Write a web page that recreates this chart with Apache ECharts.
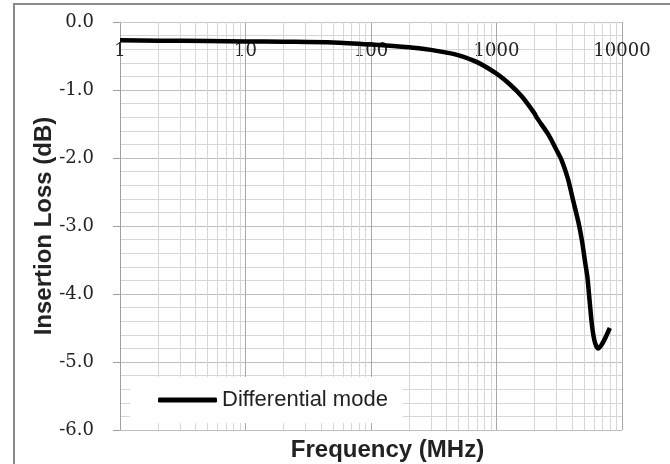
<!DOCTYPE html>
<html>
<head>
<meta charset="utf-8">
<script src="https://cdn.jsdelivr.net/npm/echarts@6/dist/echarts.min.js"></script>
<style>
html,body{margin:0;padding:0;background:#fff;}
#chart{width:670px;height:464px;}
</style>
</head>
<body>
<div id="chart"></div>
<script>
// Data
var freqMHz = [1, 2, 5, 10, 20, 50, 100, 200, 300, 400, 500, 700, 1000, 1300, 1600, 2000, 2100, 2600, 3000, 3300, 3700, 4100, 4500, 4800, 5100, 5300, 5550, 5800, 6100, 6450, 6800, 7300, 8000];
var lossDB  = [-0.27, -0.275, -0.28, -0.285, -0.29, -0.30, -0.33, -0.37, -0.41, -0.45, -0.49, -0.59, -0.76, -0.93, -1.10, -1.34, -1.41, -1.66, -1.88, -2.03, -2.30, -2.64, -2.95, -3.22, -3.55, -3.75, -4.15, -4.50, -4.72, -4.80, -4.76, -4.66, -4.50];
var seriesName = 'Differential mode';
var xTickLabels = ['1', '10', '100', '1000', '10000'];
var yMin = -6, yMax = 0, yStep = 1;

// minor log gridline positions (2..9 per decade)
var minorFreqs = [];
[1, 10, 100, 1000].forEach(function (d) {
  for (var k = 2; k <= 9; k++) minorFreqs.push(d * k);
});

var pts = freqMHz.map(function (f, i) { return [f, lossDB[i]]; });

var chart = echarts.init(document.getElementById('chart'), null, {renderer: 'canvas'});
var serif = '"DejaVu Serif", serif';
var sans = '"Liberation Sans", Arial, sans-serif';

chart.setOption({
  animation: false,
  backgroundColor: '#ffffff',
  grid: {left: 120, right: 48, top: 22, bottom: 34, show: false, containLabel: false, outerBoundsMode: 'none'},
  graphic: [{
    type: 'rect', silent: true, z: 100,
    shape: {x: 14, y: 4, width: 700, height: 500},
    style: {fill: 'none', stroke: '#8a8a8a', lineWidth: 2}
  }],
  legend: {
    left: 130, top: 377,
    orient: 'horizontal',
    backgroundColor: '#ffffff',
    padding: [12, 15, 12, 28],
    itemWidth: 59, itemHeight: 5, itemGap: 6,
    icon: 'roundRect',
    textStyle: {fontFamily: sans, fontSize: 22, color: '#222'},
    data: [seriesName]
  },
  xAxis: [{
    type: 'log', logBase: 10, min: 1, max: 10000,
    position: 'bottom',
    axisLine: {show: true, lineStyle: {color: '#a0a0a0', width: 1}},
    axisTick: {show: false},
    axisLabel: {show: false},
    splitLine: {show: true, lineStyle: {color: '#a8a8a8', width: 1}},
    name: 'Frequency (MHz)',
    nameLocation: 'middle',
    nameGap: 8,
    nameTextStyle: {fontFamily: sans, fontSize: 24, fontWeight: 'bold', color: '#222', padding: [0, 0, 0, 33], verticalAlign: 'top'}
  }, {
    type: 'log', logBase: 10, min: 1, max: 10000,
    position: 'top',
    axisLine: {show: true, lineStyle: {color: '#c8c8c8', width: 1}},
    axisTick: {show: false},
    splitLine: {show: false},
    axisLabel: {
      show: true, inside: true, margin: 20,
      fontFamily: serif, fontSize: 18, color: '#222',
      formatter: function (v) {
        var i = Math.round(Math.log10(v));
        return xTickLabels[i] !== undefined ? xTickLabels[i] : '';
      }
    }
  }],
  yAxis: {
    type: 'value', min: yMin, max: yMax, interval: yStep,
    axisLine: {show: true, onZero: false, lineStyle: {color: '#a0a0a0', width: 1}},
    axisTick: {show: true, inside: false, length: 7, lineStyle: {color: '#a0a0a0'}},
    axisLabel: {
      margin: 26, fontFamily: serif, fontSize: 18, color: '#222',
      formatter: function (v) { return v.toFixed(1); }
    },
    splitLine: {show: true, lineStyle: {color: '#bfbfbf', width: 1}},
    minorTick: {show: false, splitNumber: 5},
    minorSplitLine: {show: true, lineStyle: {color: '#d6d6d6', width: 1}},
    name: 'Insertion Loss (dB)',
    nameLocation: 'middle',
    nameGap: 64,
    nameMoveOverlap: false,
    nameRotate: 90,
    nameTextStyle: {fontFamily: sans, fontSize: 24, fontWeight: 'bold', color: '#222'}
  },
  series: [{
    name: seriesName,
    type: 'line',
    xAxisIndex: 0,
    data: pts,
    showSymbol: false,
    symbol: 'none',
    smooth: 0.25,
    lineStyle: {color: '#000', width: 4.5},
    itemStyle: {color: '#000'},
    z: 3,
    markLine: {
      silent: true,
      symbol: ['none', 'none'],
      label: {show: false},
      lineStyle: {color: '#d6d6d6', width: 1, type: 'solid'},
      emphasis: {disabled: true},
      z: 1,
      data: minorFreqs.map(function (f) { return {xAxis: f}; })
    }
  }]
});
</script>
</body>
</html>
